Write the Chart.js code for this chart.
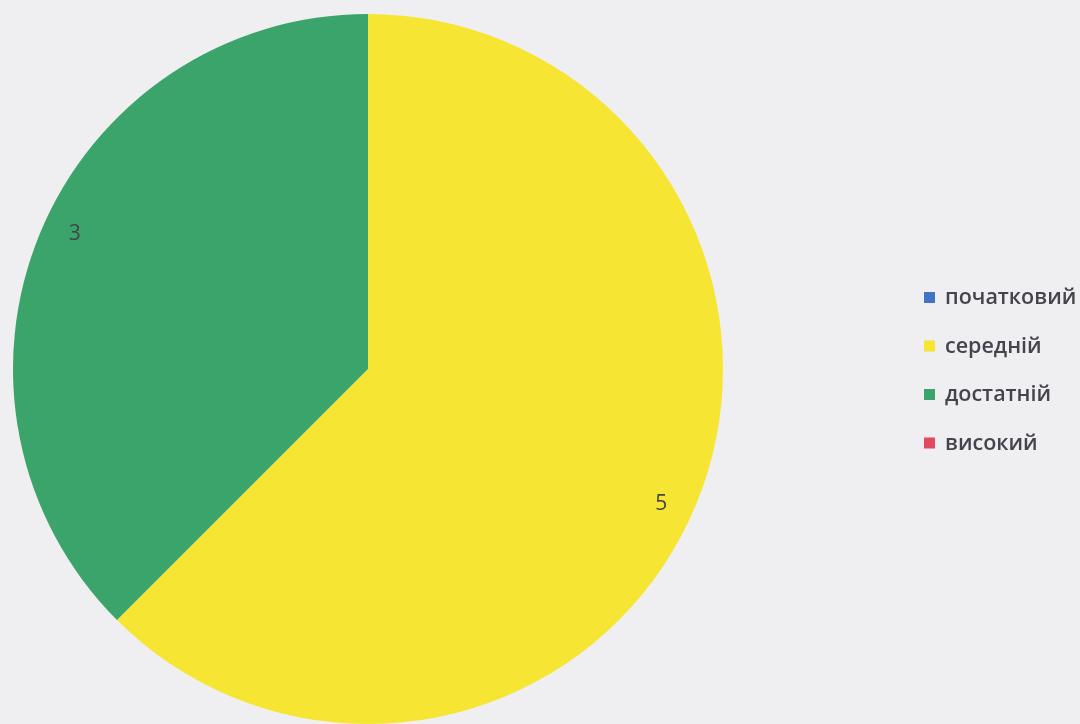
<!DOCTYPE html>
<html>
<head>
<meta charset="utf-8">
<script src="https://cdn.jsdelivr.net/npm/chart.js@4.4.1/dist/chart.umd.min.js"></script>
<style>
  html, body { margin: 0; padding: 0; background: #efeff1; overflow: hidden; }
  #wrap { width: 1080px; height: 724px; }
</style>
</head>
<body>
<div id="wrap"><canvas id="pie"></canvas></div>
<script>
// Levels and counts
const levels = ['початковий', 'середній', 'достатній', 'високий']
const counts = [0, 5, 3, 0]
const sliceColors = ['#4472c4', '#f6e633', '#3ba46b', '#e04a5e']

// Draws the value of every non-empty slice near its outer edge
const sliceLabels = {
    id: 'sliceLabels',
    afterDatasetsDraw(chart) {
        const ctx = chart.ctx
        const meta = chart.getDatasetMeta(0)
        ctx.save()
        ctx.font = '500 21px "Open Sans", sans-serif'
        ctx.fillStyle = '#44444c'
        ctx.textAlign = 'center'
        ctx.textBaseline = 'middle'
        meta.data.forEach((arc, i) => {
            const v = chart.data.datasets[0].data[i]
            if (!v) return
            const p = arc.getProps(['x', 'y', 'startAngle', 'endAngle', 'outerRadius'])
            const mid = (p.startAngle + p.endAngle) / 2 + 0.04
            const r = p.outerRadius * 0.91
            ctx.fillText(String(v), p.x + Math.cos(mid) * r, p.y + Math.sin(mid) * r)
        })
        ctx.restore()
    }
}

// Legend on the right, drawn by hand so it keeps its place
const sideLegend = {
    id: 'sideLegend',
    afterDraw(chart) {
        const ctx = chart.ctx
        const colors = chart.data.datasets[0].backgroundColor
        ctx.save()
        ctx.font = '600 21.5px "Open Sans", sans-serif'
        ctx.textBaseline = 'middle'
        chart.data.labels.forEach((label, i) => {
            const y = 298 + i * 48.5
            ctx.fillStyle = colors[i]
            ctx.fillRect(924, y - 6, 11, 11)
            ctx.fillStyle = '#44444c'
            ctx.fillText(label, 945, y)
        })
        ctx.restore()
    }
}

new Chart(document.getElementById('pie'), {
    type: 'pie',
    data: {
        labels: levels,
        datasets: [{
            data: counts,
            backgroundColor: sliceColors,
            borderWidth: 0
        }]
    },
    options: {
        responsive: true,
        maintainAspectRatio: false,
        animation: false,
        layout: {
            padding: { left: 13, top: 14, right: 357, bottom: 0 }
        },
        plugins: {
            legend: { display: false },
            tooltip: { enabled: false }
        }
    },
    plugins: [sliceLabels, sideLegend]
})
</script>
</body>
</html>
